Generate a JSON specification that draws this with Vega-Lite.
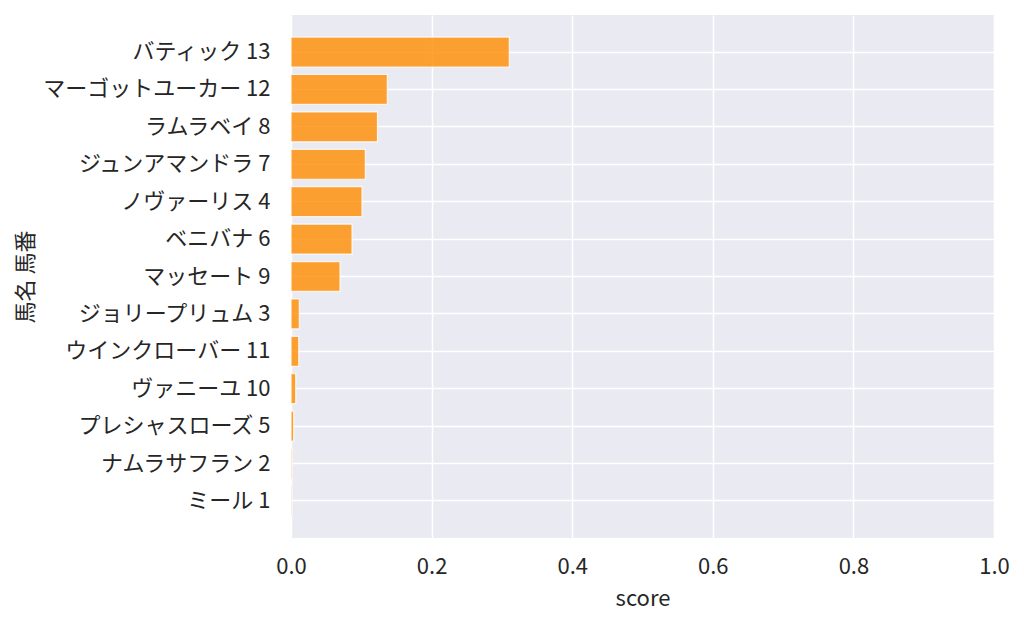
{
  "$schema": "https://vega.github.io/schema/vega-lite/v6.json",
  "autosize": {"type": "none"},
  "padding": {"left": 291, "top": 15, "right": 30, "bottom": 89},
  "width": 703,
  "height": 523,
  "background": "white",
  "config": {
    "view": {"fill": "#eaeaf2", "stroke": null},
    "font": "Noto Sans CJK JP",
    "axis": {
      "domain": false,
      "ticks": false,
      "grid": true,
      "gridColor": "white",
      "gridWidth": 1.5,
      "labelFont": "Noto Sans CJK JP",
      "titleFont": "Noto Sans CJK JP",
      "labelFontSize": 22,
      "titleFontSize": 22,
      "labelColor": "#262626",
      "titleColor": "#262626",
      "titleFontWeight": "normal",
      "labelFlush": false
    }
  },
  "data": {
    "values": [
      {"name": "バティック 13", "score": 0.3105},
      {"name": "マーゴットユーカー 12", "score": 0.137},
      {"name": "ラムラベイ 8", "score": 0.123},
      {"name": "ジュンアマンドラ 7", "score": 0.1057},
      {"name": "ノヴァーリス 4", "score": 0.101},
      {"name": "ベニバナ 6", "score": 0.0868},
      {"name": "マッセート 9", "score": 0.0697},
      {"name": "ジョリープリュム 3", "score": 0.0118},
      {"name": "ウインクローバー 11", "score": 0.011},
      {"name": "ヴァニーユ 10", "score": 0.0067},
      {"name": "プレシャスローズ 5", "score": 0.0038},
      {"name": "ナムラサフラン 2", "score": 0.0018},
      {"name": "ミール 1", "score": 0.0012}
    ]
  },
  "mark": {"type": "bar", "color": "#ff8c00", "fillOpacity": 0.8, "stroke": "white", "strokeWidth": 1.2, "strokeOpacity": 0.8},
  "encoding": {
    "y": {
      "field": "name",
      "type": "nominal",
      "sort": null,
      "scale": {"paddingInner": 0.2, "paddingOuter": 0.59},
      "axis": {"title": "馬名 馬番", "labelPadding": 21, "titlePadding": 54, "bandPosition": 0.5, "labelLimit": 400}
    },
    "x": {
      "field": "score",
      "type": "quantitative",
      "scale": {"domain": [0, 1]},
      "axis": {"title": "score", "values": [0, 0.2, 0.4, 0.6, 0.8, 1.0], "format": ".1f", "labelPadding": 18, "titlePadding": 11}
    }
  }
}
